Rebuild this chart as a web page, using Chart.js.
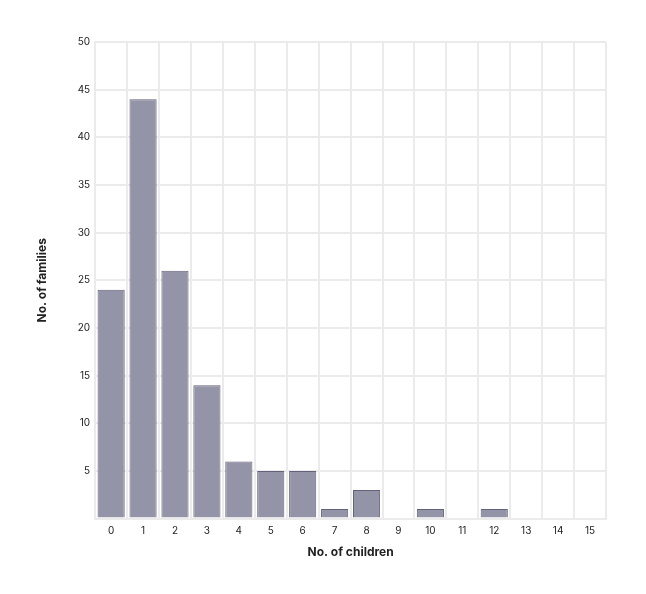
<!DOCTYPE html>
<html>
<head>
<meta charset="utf-8">
<script src="https://cdn.jsdelivr.net/npm/chart.js@4"></script>
<style>
  html, body { margin: 0; padding: 0; background: #fff; }
  #wrap { width: 646px; height: 594px; }
</style>
</head>
<body>
<div id="wrap"><canvas id="chart"></canvas></div>
<script>
// No. of children per family
const childCounts = ['0','1','2','3','4','5','6','7','8','9','10','11','12','13','14','15'];
const familyCounts = [24, 44, 26, 14, 6, 5, 5, 1, 3, 0, 1, 0, 1, 0, 0, 0];

const yMin = 0;
const yMax = 50;
const yStep = 5;

Chart.defaults.font.family = 'Inter, "Noto Sans", sans-serif';
Chart.defaults.color = '#222';

const ctx = document.getElementById('chart').getContext('2d');
new Chart(ctx, {
    type: 'bar',
    data: {
        labels: childCounts,
        datasets: [{
            label: 'No. of families',
            data: familyCounts,
            backgroundColor: '#9494a8',
            borderColor: '#62627a',
            borderWidth: 1,
            barPercentage: 0.85,
            categoryPercentage: 1
        }]
    },
    options: {
        responsive: true,
        maintainAspectRatio: false,
        animation: false,
        layout: {
            padding: { left: 31, right: 40, top: 42, bottom: 30 }
        },
        plugins: {
            legend: { display: false },
            tooltip: { enabled: false }
        },
        scales: {
            x: {
                grid: { color: '#ebebeb', lineWidth: 2, offset: true, drawTicks: false },
                border: { color: '#ebebeb', width: 2 },
                ticks: { font: { size: 10 }, padding: 6 },
                title: {
                    display: true,
                    text: 'No. of children',
                    font: { size: 12, weight: 'bold' },
                    padding: { top: 3 }
                }
            },
            y: {
                min: yMin,
                max: yMax,
                grid: { color: '#ebebeb', lineWidth: 2, drawTicks: false },
                border: { color: '#ebebeb', width: 2 },
                ticks: {
                    stepSize: yStep,
                    font: { size: 10 },
                    padding: 5,
                    callback: function (value) {
                        return value === 0 ? '' : value;
                    }
                },
                title: {
                    display: true,
                    text: 'No. of families',
                    font: { size: 12, weight: 'bold' },
                    padding: { bottom: 23 }
                }
            }
        }
    }
});
</script>
</body>
</html>
